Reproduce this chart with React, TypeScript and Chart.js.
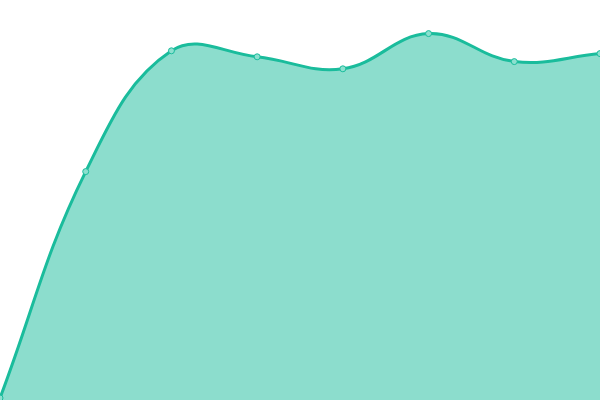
import { useEffect, useRef } from 'react';
import { Chart, registerables } from 'chart.js';

Chart.register(...registerables);

const labels = ['1', '2', '3', '4', '5', '6', '7', '8'];
const values = [0.5, 57.1, 87.3, 85.8, 82.8, 91.6, 84.6, 86.6];

export default function App() {
  const ref = useRef<HTMLCanvasElement>(null);

  useEffect(() => {
    document.body.style.margin = '0';
    if (!ref.current) return;
    const chart = new Chart(ref.current, {
      type: 'line',
      data: {
        labels,
        datasets: [{
          data: values,
          borderColor: '#1abc9c',
          backgroundColor: 'rgba(26,188,156,0.5)',
          borderWidth: 3,
          fill: true,
          tension: 0.4,
          pointRadius: 3,
          pointBorderWidth: 1,
          pointBackgroundColor: '#8ce0cf',
          pointBorderColor: '#1abc9c',
        }],
      },
      options: {
        animation: false,
        responsive: true,
        maintainAspectRatio: false,
        layout: { padding: 0, autoPadding: false },
        plugins: { legend: { display: false }, tooltip: { enabled: false } },
        scales: {
          x: { display: false },
          y: { display: false, min: 0, max: 100 },
        },
      },
    });
    return () => chart.destroy();
  }, []);

  return (
    <div style={{ width: 600, height: 400 }}>
      <canvas ref={ref} />
    </div>
  );
}
